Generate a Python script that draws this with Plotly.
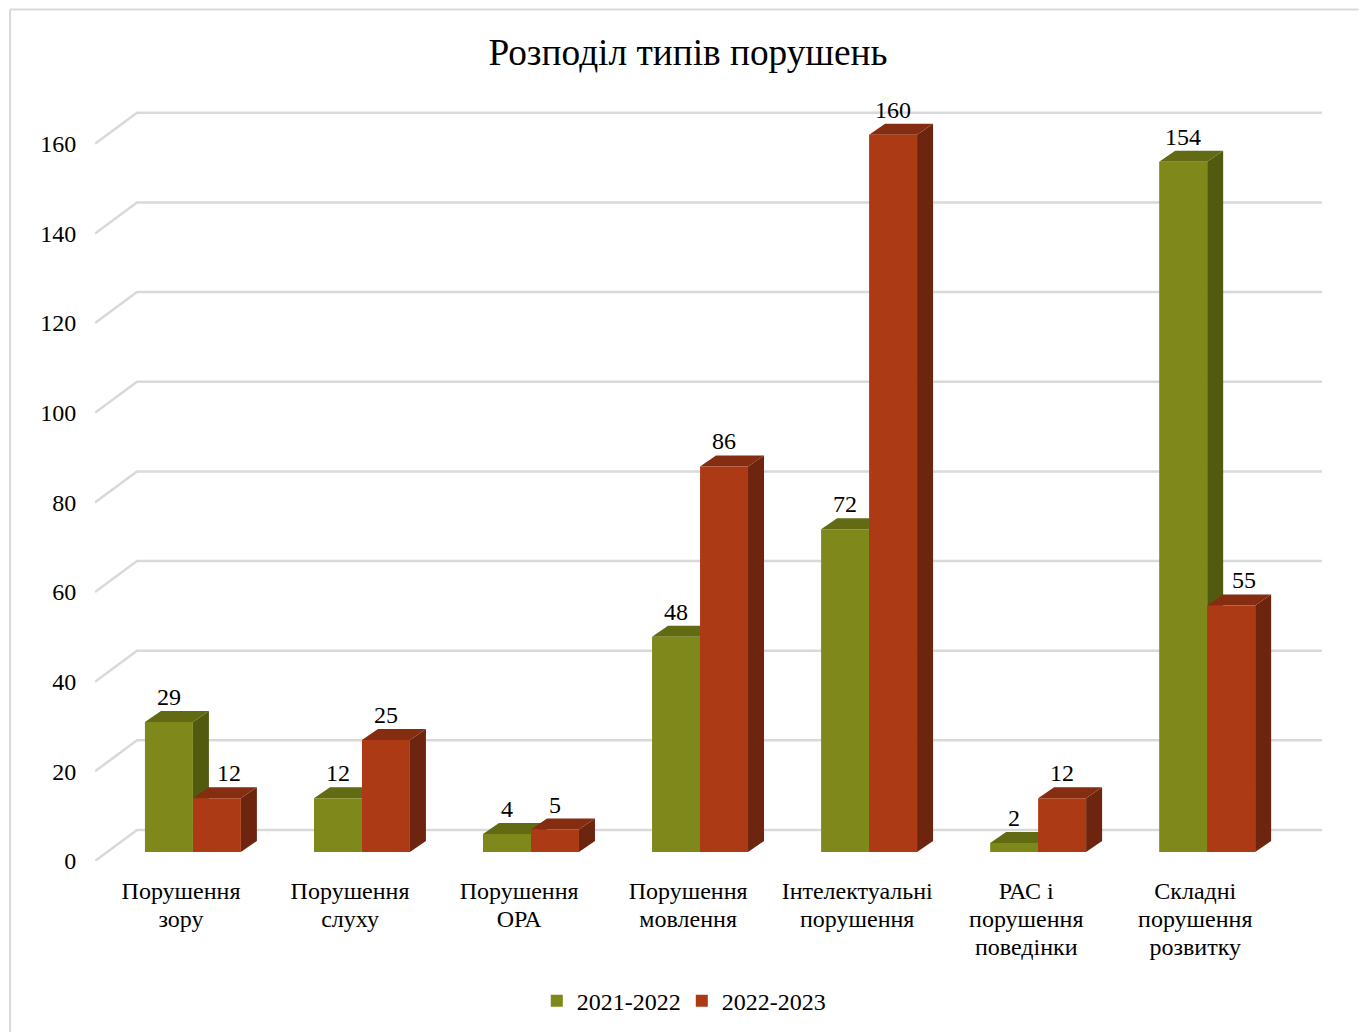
import plotly.graph_objects as go

# ---- data ----
categories = ["Порушення<br>зору", "Порушення<br>слуху", "Порушення<br>ОРА", "Порушення<br>мовлення",
              "Інтелектуальні<br>порушення", "РАС і<br>порушення<br>поведінки", "Складні<br>порушення<br>розвитку"]
series_names = ["2021-2022", "2022-2023"]
values_2021 = [29, 12, 4, 48, 72, 2, 154]
values_2022 = [12, 25, 5, 86, 160, 12, 55]
y_ticks = [0, 20, 40, 60, 80, 100, 120, 140, 160]
title_text = "Розподіл типів порушень"

# ---- geometry / style ----
W, H = 1359, 1032
FONT = "Liberation Serif"
GRID = "#d9d9d9"
FRONT = ["#7e881b", "#ac3b15"]
TOP = ["#626b13", "#842d10"]
SIDE = ["#525a10", "#6e2510"]
UX, UY = 169.1, 4.48            # pixels per category / per value
L, BOTTOM = 95, 861             # pixel of x=-0.5 and y=0 on the front edge
XR = [-0.5, 6.8]
YR = [0, 172]
PW, PH = (XR[1] - XR[0]) * UX, (YR[1] - YR[0]) * UY
WALL_DX, WALL_DY = 42 / UX, 31 / UY     # depth of the floor
BAR_DX, BAR_DY = 16 / UX, 11 / UY       # depth of a bar
SHIFT_X, SHIFT_Y = 13.4 / UX, 9 / UY    # bars stand inside the floor
BAR_W = 48 / UX
XR_BARS = [XR[0] - SHIFT_X, XR[1] - SHIFT_X]
YR_BARS = [YR[0] - SHIFT_Y, YR[1] - SHIFT_Y]

px = lambda x: (x - L) / PW
py = lambda y: (BOTTOM - y) / PH

fig = go.Figure()

# walls: grid lines running back from the axis, then along the back wall
gx, gy = [], []
for t in y_ticks:
    gx += [XR[0], XR[0] + WALL_DX, 6.5 + WALL_DX + 0.01, None]
    gy += [t, t + WALL_DY, t + WALL_DY, None]
fig.add_trace(go.Scatter(x=gx, y=gy, mode="lines", line=dict(color=GRID, width=2.5),
                         hoverinfo="skip", showlegend=False, cliponaxis=False))

# tops and sides of bars, behind the front faces
def faces(vals, offset):
    sx, sy, tx, ty = [], [], [], []
    for i, v in enumerate(vals):
        a = i + offset * BAR_W
        b = a + BAR_W
        sx += [b, b + BAR_DX, b + BAR_DX, b, b, None]
        sy += [0, BAR_DY, v + BAR_DY, v, 0, None]
        tx += [a, a + BAR_DX, b + BAR_DX, b, a, None]
        ty += [v, v + BAR_DY, v + BAR_DY, v, v, None]
    return sx, sy, tx, ty

for k, (vals, off) in enumerate([(values_2021, -1), (values_2022, 0)]):
    sx, sy, tx, ty = faces(vals, off)
    for xs, ys, col in [(sx, sy, SIDE[k]), (tx, ty, TOP[k])]:
        fig.add_trace(go.Scatter(x=xs, y=ys, mode="lines", fill="toself", fillcolor=col,
                                 line=dict(width=0, color=col), hoverinfo="skip",
                                 showlegend=False, xaxis="x2", yaxis="y2"))

# front faces
xs = list(range(len(categories)))
for k, vals in enumerate([values_2021, values_2022]):
    fig.add_trace(go.Bar(x=xs, y=vals, name=series_names[k], marker=dict(color=FRONT[k], line=dict(width=0)),
                         xaxis="x3", yaxis="y3"))

# value labels
nudges = {(0, 1): 12, (6, 1): 13}
notes = []
for k, vals in enumerate([values_2021, values_2022]):
    for i, v in enumerate(vals):
        notes.append(dict(x=i + (k - 0.5) * BAR_W, y=v, xref="x3", yref="y3", text=str(v), showarrow=False,
                          yanchor="middle", xanchor="center", yshift=25, xshift=nudges.get((i, k), 0),
                          font=dict(family=FONT, size=24, color="#000000")))

# tick font size sets the line spacing (1.3 em); the span sets the glyph size
tick_labels = ['<br>'.join(f'<span style="font-size:24px">{part}</span>' for part in c.split("<br>"))
               for c in categories]
TICK_NUDGE = 1.5 / UX

hidden = dict(visible=False, fixedrange=True)
fig.update_layout(
    width=W, height=H, autosize=False,
    margin=dict(l=L, r=W - L - PW, t=BOTTOM - PH, b=H - BOTTOM, pad=0, autoexpand=False),
    paper_bgcolor="white", plot_bgcolor="rgba(0,0,0,0)",
    font=dict(family=FONT, size=24, color="#000000"),
    barmode="group", bargap=1 - 2 * BAR_W, bargroupgap=0,
    title=dict(text=title_text, x=688 / W, xanchor="center", y=1 - 52 / H, yanchor="middle",
               yref="container", font=dict(family=FONT, size=37.3, color="#000000")),
    xaxis=dict(range=XR, tickmode="array", tickvals=[i + TICK_NUDGE for i in xs], ticktext=tick_labels,
               showgrid=False, zeroline=False, showline=False, ticks="outside", ticklen=11,
               tickcolor="rgba(0,0,0,0)", tickfont=dict(family=FONT, size=21.5), tickangle=0),
    yaxis=dict(range=YR, tickmode="array", tickvals=y_ticks, showgrid=False, zeroline=False, showline=False,
               ticks="outside", ticklen=13, tickcolor="rgba(0,0,0,0)", tickfont=dict(family=FONT, size=24)),
    xaxis2=dict(range=XR_BARS, overlaying="x", **hidden),
    yaxis2=dict(range=YR_BARS, overlaying="y", **hidden),
    xaxis3=dict(range=XR_BARS, overlaying="x", **hidden),
    yaxis3=dict(range=YR_BARS, overlaying="y", **hidden),
    legend=dict(orientation="h", x=px(682), xanchor="center", y=py(1001), yanchor="middle",
                entrywidth=100, font=dict(family=FONT, size=24), bgcolor="rgba(0,0,0,0)"),
    annotations=notes,
    shapes=[
        dict(type="line", xref="paper", yref="paper", x0=px(10), x1=px(W), y0=py(10), y1=py(10),
             line=dict(color=GRID, width=2), layer="below"),
        dict(type="line", xref="paper", yref="paper", x0=px(10), x1=px(10), y0=py(10), y1=py(H),
             line=dict(color=GRID, width=2), layer="below"),
    ],
)

fig.write_html("out.html", config=dict(displayModeBar=False),
               post_script="document.body.style.margin='0';document.body.style.overflow='hidden';")
